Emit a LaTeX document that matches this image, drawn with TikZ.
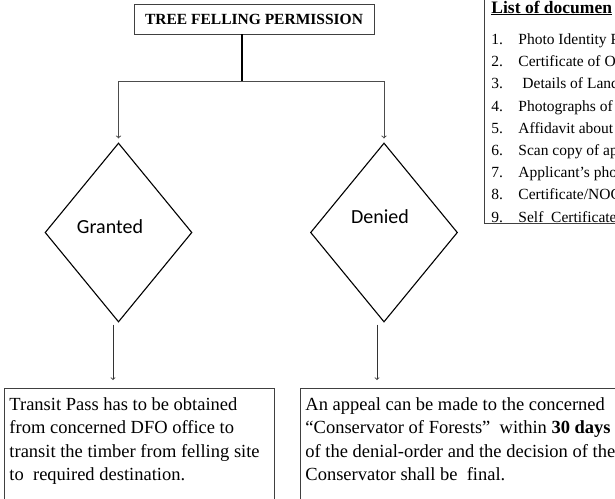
\documentclass[tikz,border=0pt]{standalone}
\usepackage{fontspec}
\setmainfont{Liberation Serif}
\newfontfamily\labelfont{Carlito}
\usetikzlibrary{shapes.geometric}

\begin{document}
\begin{tikzpicture}[x=1pt,y=-1pt]
					\clip (0,0) rectangle (615,498);
					\begin{scope}[every node/.style={rectangle,draw=black!75,line width=0.9pt,inner sep=0pt}]
						\node (title) at (254,19) [minimum width=240pt,minimum height=30pt] {\fontsize{15.5}{19}\selectfont\bfseries TREE FELLING PERMISSION};
						\node (transit) at (4,388) [anchor=north west,inner xsep=5pt,inner ysep=9pt] {\parbox[t][130pt][t]{260pt}{\fontsize{18.5}{23.4}\selectfont
							Transit Pass has to be obtained\\
							from concerned DFO office to\\
							transit the timber from felling site\\
							to\ \ required destination.}};
						\node (appeal) at (300,388) [anchor=north west,inner xsep=5pt,inner ysep=9pt] {\parbox[t][130pt][t]{330pt}{\fontsize{18.5}{23.4}\selectfont
							An appeal can be made to the concerned\\
							“Conservator of Forests”\ \ within \textbf{30 days}\\
							of the denial-order and the decision of the\\
							Conservator shall be\ \ final.}};
						\node (docs) at (484,13) [anchor=base west,inner xsep=7pt,inner ysep=1.5pt] {\parbox[t]{200pt}{\fontsize{15.5}{22.2}\selectfont
							\rule{0pt}{24pt}{\fontsize{17.5}{20}\selectfont\textbf{\underline{List of documen}}}\\[9.3pt]
							\makebox[27pt][l]{1.}Photo Identity P\\
							\makebox[27pt][l]{2.}Certificate of O\\
							\makebox[27pt][l]{3.}\hspace{4pt}Details of Land\\
							\makebox[27pt][l]{4.}Photographs of\\
							\makebox[27pt][l]{5.}Affidavit about\\
							\makebox[27pt][l]{6.}Scan copy of ap\\
							\makebox[27pt][l]{7.}Applicant’s pho\\
							\makebox[27pt][l]{8.}Certificate/NOC\\
							\makebox[27pt][l]{9.}Self\ \ Certificate}};
					\end{scope}
					
					\begin{scope}[every node/.style={diamond,draw=black,line width=1.1pt,minimum width=147pt,minimum height=179pt,inner sep=0pt}]
						\node (grant) at (118.5,232.5) {};
						\node (deny) at (384,232.5) {};
					\end{scope}
					
					\begin{scope}[every node/.style={font=\labelfont\fontsize{20}{24}\selectfont}]
						\node (granttext) at (110,227) {Granted};
						\node (denytext) at (380,217) {Denied};
					\end{scope}
					
					\coordinate (split) at (242,81);
					\draw [line width=1.8pt] (title.south -| split) -- (split);
					\draw [->,draw=black!70,line width=1pt,shorten >=4pt] (split) -| (grant);
					\draw [->,draw=black!70,line width=1pt,shorten >=4pt] (split) -| (deny);
					
					\begin{scope}[every edge/.style={draw=black!80,line width=0.8pt}]
						\path [->,shorten >=8pt] ([xshift=-5.5pt,yshift=-2pt]grant.south) edge ([xshift=-5.5pt]grant.south |- transit.north);
						\path [->,shorten >=8pt] ([xshift=-7pt,yshift=-2pt]deny.south) edge ([xshift=-7pt]deny.south |- appeal.north);
					\end{scope}
				\end{tikzpicture}
\end{document}
